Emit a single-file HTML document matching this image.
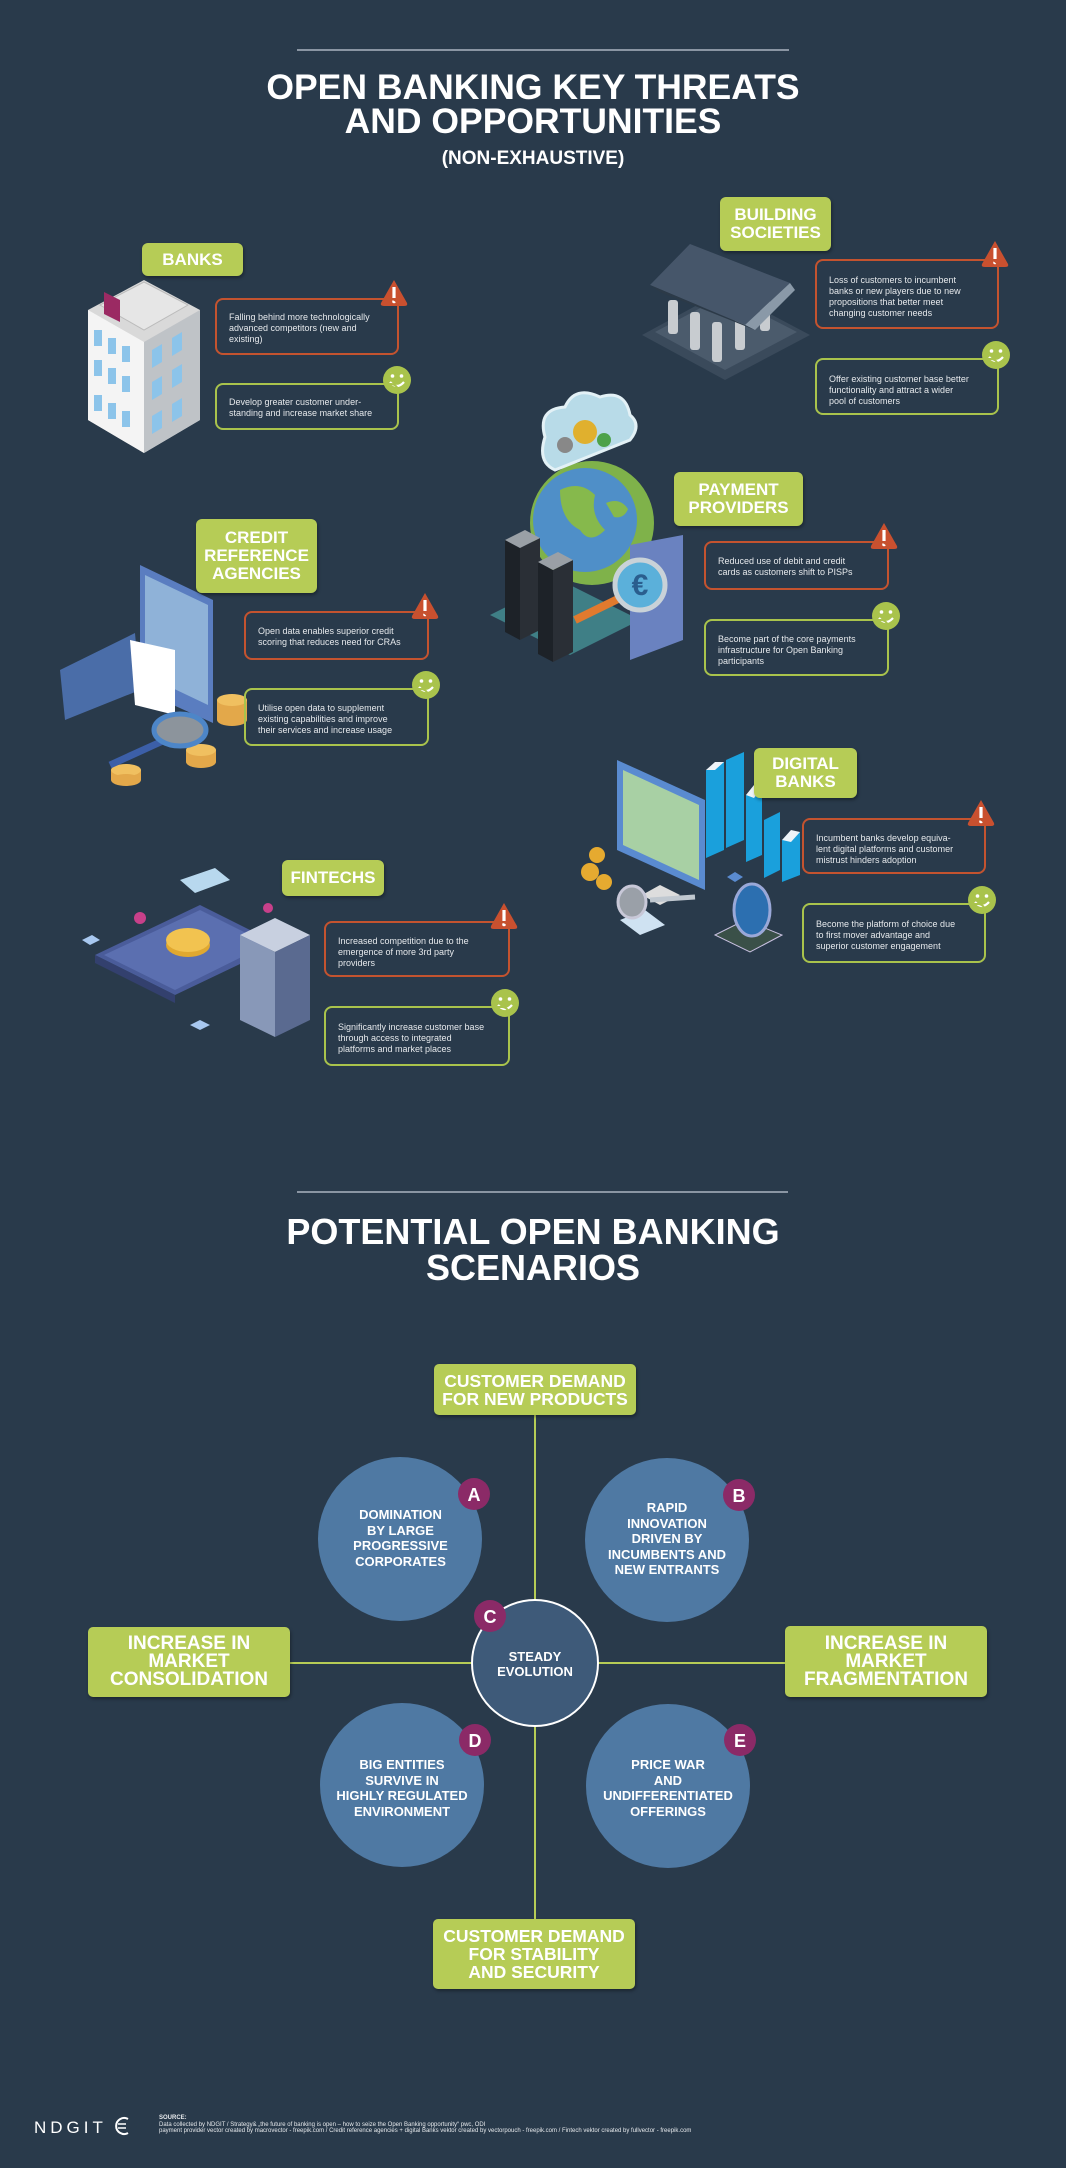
<!DOCTYPE html>
<html><head><meta charset="utf-8"><style>
*{margin:0;padding:0;box-sizing:border-box}
body{width:1066px;height:2168px;background:#293a4b;overflow:hidden;font-family:"Liberation Sans",sans-serif}
#r{position:relative;width:1066px;height:2168px;background:#293a4b}
.t{position:absolute;color:#fff;font-weight:bold;text-align:center;left:0;width:1066px}
.lab{position:absolute;background:#b6cc56;border-radius:6px;color:#fff;font-weight:bold;text-align:center;display:flex;align-items:center;justify-content:center;font-size:17px;line-height:18px;box-shadow:1px 2px 3px rgba(0,0,0,.35)}
.bx{position:absolute;border:2px solid #c4532f;border-radius:8px;color:#e6e9ec;font-size:9px;line-height:11px;padding:12px 0 0 12px}
.bx.g{border-color:#a9c34c}
.gb{position:absolute;background:#b6cc56;border-radius:5px;color:#fff;font-weight:bold;text-align:center;display:flex;align-items:center;justify-content:center;font-size:17.5px;line-height:18px;box-shadow:1px 2px 3px rgba(0,0,0,.35)}
.ct{position:absolute;color:#fff;font-weight:bold;text-align:center;font-size:13px;line-height:15.5px;display:flex;align-items:center;justify-content:center}
</style></head><body><div id="r">
<svg width="1066" height="2168" style="position:absolute;left:0;top:0">
<defs>
<g id="warn"><path d="M0,-15 L13,8 Q14,11 10,11 L-10,11 Q-14,11 -13,8 Z" fill="#c9502f"/><rect x="-1.6" y="-8" width="3.2" height="11" fill="#fff"/><circle cx="0" cy="6.5" r="1.8" fill="#fff"/></g>
<g id="smile"><circle r="14" fill="#a9c34c"/><circle cx="-4.5" cy="-4" r="1.8" fill="#fff"/><circle cx="4.5" cy="-4" r="1.8" fill="#fff"/><path d="M-7,2 Q0,10 7,2" stroke="#fff" stroke-width="2.2" fill="none"/></g>
</defs>
<line x1="297" y1="50" x2="789" y2="50" stroke="#8a95a3" stroke-width="2"/>
<line x1="297" y1="1192" x2="788" y2="1192" stroke="#8a95a3" stroke-width="2"/>

<!-- Bank building -->
<polygon points="88,310 144,280 200,310 200,420 144,453 88,420" fill="#d9d9d9"/>
<polygon points="88,310 144,342 144,453 88,420" fill="#f4f4f4"/>
<polygon points="144,342 200,310 200,420 144,453" fill="#bfc3c7"/>
<polygon points="100,305 144,282 188,305 144,330" fill="#e6e6e6" stroke="#bbb"/>
<polygon points="104,292 120,300 120,322 104,314" fill="#9b2a63"/>
<g fill="#8cc4ea"><rect x="94" y="330" width="8" height="16"/><rect x="108" y="338" width="8" height="16"/><rect x="122" y="346" width="8" height="16"/><rect x="94" y="360" width="8" height="16"/><rect x="108" y="368" width="8" height="16"/><rect x="122" y="376" width="8" height="16"/><rect x="94" y="395" width="8" height="16"/><rect x="108" y="403" width="8" height="16"/><rect x="122" y="411" width="8" height="16"/>
<polygon points="152,350 162,344 162,362 152,368"/><polygon points="172,338 182,332 182,350 172,356"/><polygon points="152,382 162,376 162,394 152,400"/><polygon points="172,370 182,364 182,382 172,388"/><polygon points="152,416 162,410 162,428 152,434"/><polygon points="172,404 182,398 182,416 172,422"/></g>

<!-- Building society -->
<polygon points="642,335 725,290 810,335 725,380" fill="#3a4a5b"/>
<polygon points="655,332 725,295 797,332 725,370" fill="#4b5b6c"/>
<g fill="#c8ccd0"><rect x="668" y="300" width="10" height="34" rx="3"/><rect x="690" y="312" width="10" height="38" rx="3"/><rect x="712" y="322" width="10" height="40" rx="3"/><rect x="735" y="312" width="10" height="38" rx="3"/><rect x="760" y="295" width="10" height="36" rx="3"/></g>
<polygon points="650,285 690,244 790,283 745,325" fill="#46566a"/>
<polygon points="745,325 790,283 795,290 755,330" fill="#8a99a8"/>
<polygon points="650,285 745,325 755,330 660,292" fill="#2c3a48"/>

<!-- Payment providers -->
<polygon points="490,615 560,580 640,620 570,655" fill="#3f7f86"/>
<circle cx="592" cy="523" r="62" fill="#7fb24a"/>
<circle cx="585" cy="520" r="52" fill="#4f8fc8"/>
<path d="M560,490 q20,-10 35,5 q-5,20 10,35 q-15,15 -25,0 q-20,-10 -20,-40z" fill="#86b94c"/>
<path d="M606,503 q14,-6 22,6 q-4,10 -14,8z" fill="#86b94c"/>
<path d="M545,437 q-8,-28 20,-30 q10,-22 35,-10 q25,-8 30,18 q12,10 0,25 l-75,30 q-18,-8 -10,-33z" fill="#b8dbe8" stroke="#e3f1f6" stroke-width="3"/>
<circle cx="585" cy="432" r="12" fill="#e0b02e"/><circle cx="565" cy="445" r="8" fill="#888"/><circle cx="604" cy="440" r="7" fill="#4da24a"/>
<polygon points="520,548 540,538 540,630 520,640" fill="#2a2f36"/><polygon points="505,540 520,548 520,640 505,632" fill="#1d2228"/><polygon points="505,540 525,530 540,538 520,548" fill="#9aa0a6"/>
<polygon points="553,570 573,560 573,652 553,662" fill="#2a2f36"/><polygon points="538,562 553,570 553,662 538,654" fill="#1d2228"/><polygon points="538,562 558,552 573,560 553,570" fill="#9aa0a6"/>
<polygon points="630,545 683,535 683,640 630,660" fill="#6a82c0"/>
<line x1="575" y1="620" x2="620" y2="598" stroke="#e07a2e" stroke-width="8"/>
<circle cx="640" cy="585" r="25" fill="#5bb0da" stroke="#c9d2d8" stroke-width="5"/>
<text x="640" y="595" font-size="30" font-weight="bold" fill="#2a5e8e" text-anchor="middle" font-family="Liberation Sans">€</text>

<!-- Credit reference -->
<polygon points="140,565 213,600 213,723 140,690" fill="#5a7dc0"/>
<polygon points="145,575 208,605 208,705 145,675" fill="#8fb2d8"/>
<polygon points="60,670 135,633 140,690 65,720" fill="#4a6da8"/>
<polygon points="130,640 175,650 175,715 135,705" fill="#fff"/>
<g fill="#e3a84a"><ellipse cx="232" cy="720" rx="15" ry="6"/><rect x="217" y="700" width="30" height="20"/><ellipse cx="232" cy="700" rx="15" ry="6" fill="#f0c060"/>
<rect x="186" y="750" width="30" height="12"/><ellipse cx="201" cy="750" rx="15" ry="6" fill="#f0c060"/><ellipse cx="201" cy="762" rx="15" ry="6"/>
<rect x="111" y="770" width="30" height="10"/><ellipse cx="126" cy="770" rx="15" ry="6" fill="#f0c060"/><ellipse cx="126" cy="780" rx="15" ry="6"/></g>
<line x1="110" y1="765" x2="165" y2="740" stroke="#3c5fa8" stroke-width="7"/>
<ellipse cx="180" cy="730" rx="26" ry="16" fill="#8c949c" stroke="#4d86c8" stroke-width="5"/>

<!-- Digital banks -->
<polygon points="617,760 705,800 705,890 617,850" fill="#5a8bd0"/>
<polygon points="623,770 699,805 699,880 623,845" fill="#a8d0a4"/>
<polygon points="642,895 660,885 680,895 660,905" fill="#ddd"/>
<g fill="#1aa0dc"><polygon points="706,770 724,762 724,850 706,858"/><polygon points="726,760 744,752 744,840 726,848"/><polygon points="746,795 762,788 762,855 746,862"/><polygon points="764,820 780,812 780,870 764,878"/><polygon points="782,840 800,832 800,875 782,882"/></g>
<g fill="#eef3f8"><polygon points="706,770 715,762 724,762 715,770"/><polygon points="746,795 754,785 762,788 754,798"/><polygon points="782,840 791,830 800,832 791,842"/></g>
<g fill="#e6aa30"><circle cx="597" cy="855" r="8"/><circle cx="590" cy="872" r="9"/><circle cx="604" cy="882" r="8"/></g>
<polygon points="620,920 645,910 665,925 640,935" fill="#cfe2f2"/>
<ellipse cx="632" cy="902" rx="14" ry="16" fill="#9aa0a8" stroke="#c8c8d8" stroke-width="3"/>
<line x1="650" y1="900" x2="695" y2="897" stroke="#c0c8d0" stroke-width="5"/>
<polygon points="715,935 745,920 782,935 750,952" fill="#3a5048" stroke="#c8c0e0"/>
<ellipse cx="752" cy="910" rx="18" ry="26" fill="#2c6fb0" stroke="#9aa8d8" stroke-width="3"/>
<polygon points="727,877 735,872 743,877 735,882" fill="#5a8bd0"/>

<!-- Fintech -->
<polygon points="95,955 200,905 280,945 175,995" fill="#4a5c9a"/>
<polygon points="95,955 175,995 175,1003 95,963" fill="#33406e"/>
<polygon points="104,955 200,910 268,944 175,990" fill="#5b6fb0"/>
<polygon points="180,880 215,868 230,880 195,893" fill="#b8d8ee"/>
<ellipse cx="188" cy="945" rx="22" ry="12" fill="#e0a830"/><ellipse cx="188" cy="940" rx="22" ry="12" fill="#f2c350"/>
<polygon points="240,935 275,918 310,935 275,952" fill="#c8d0e0"/>
<polygon points="240,935 275,952 275,1037 240,1020" fill="#8898b8"/>
<polygon points="275,952 310,935 310,1020 275,1037" fill="#5a6a90"/>
<circle cx="140" cy="918" r="6" fill="#c8408a"/><circle cx="268" cy="908" r="5" fill="#c8408a"/>
<polygon points="82,940 92,935 100,940 90,945" fill="#a8c8f0"/><polygon points="190,1025 200,1020 210,1025 200,1030" fill="#a8c8f0"/>

<!-- scenarios -->
<line x1="535" y1="1415" x2="535" y2="1919" stroke="#b6cc56" stroke-width="2"/>
<line x1="290" y1="1663" x2="786" y2="1663" stroke="#b6cc56" stroke-width="2"/>
<circle cx="400" cy="1539" r="82" fill="#4f79a3"/>
<circle cx="667" cy="1540" r="82" fill="#4f79a3"/>
<circle cx="402" cy="1785" r="82" fill="#4f79a3"/>
<circle cx="668" cy="1786" r="82" fill="#4f79a3"/>
<circle cx="535" cy="1663" r="63" fill="#3e5a79" stroke="#fff" stroke-width="2"/>
<g fill="#8b2a67" stroke="#b6cc56" stroke-width="0"><circle cx="474" cy="1494" r="16"/><circle cx="739" cy="1495" r="16"/><circle cx="490" cy="1616" r="16"/><circle cx="475" cy="1740" r="16"/><circle cx="740" cy="1740" r="16"/></g>
<g fill="#fff" font-family="Liberation Sans" font-weight="bold" font-size="18" text-anchor="middle"><text x="474" y="1501">A</text><text x="739" y="1502">B</text><text x="490" y="1623">C</text><text x="475" y="1747">D</text><text x="740" y="1747">E</text></g>

<!-- icons -->
<use href="#warn" x="394" y="295"/><use href="#smile" x="397" y="380"/>
<use href="#warn" x="995" y="256"/><use href="#smile" x="996" y="355"/>
<use href="#warn" x="884" y="538"/><use href="#smile" x="886" y="616"/>
<use href="#warn" x="425" y="608"/><use href="#smile" x="426" y="685"/>
<use href="#warn" x="981" y="815"/><use href="#smile" x="982" y="900"/>
<use href="#warn" x="504" y="918"/><use href="#smile" x="505" y="1003"/>
<!-- footer logo -->
<text x="34" y="2133" font-family="Liberation Sans" font-size="17" fill="#fff" letter-spacing="4">NDGIT</text>
<path d="M128,2119 a8,8 0 1,0 0,14" stroke="#fff" stroke-width="2" fill="none"/><line x1="118" y1="2124" x2="126" y2="2124" stroke="#fff" stroke-width="1.5"/><line x1="118" y1="2128" x2="126" y2="2128" stroke="#fff" stroke-width="1.5"/>
</svg>

<div class="t" style="top:70px;font-size:35.5px;line-height:34px">OPEN BANKING KEY THREATS<br>AND OPPORTUNITIES</div>
<div class="t" style="top:149px;font-size:19px;line-height:20px">(NON-EXHAUSTIVE)</div>

<div class="lab" style="left:142px;top:243px;width:101px;height:33px">BANKS</div>
<div class="lab" style="left:720px;top:197px;width:111px;height:54px">BUILDING<br>SOCIETIES</div>
<div class="lab" style="left:674px;top:472px;width:129px;height:54px">PAYMENT<br>PROVIDERS</div>
<div class="lab" style="left:196px;top:519px;width:121px;height:74px">CREDIT<br>REFERENCE<br>AGENCIES</div>
<div class="lab" style="left:754px;top:748px;width:103px;height:50px">DIGITAL<br>BANKS</div>
<div class="lab" style="left:282px;top:860px;width:102px;height:36px">FINTECHS</div>

<div class="bx" style="left:215px;top:298px;width:184px;height:57px">Falling behind more technologically<br>advanced competitors (new and<br>existing)</div>
<div class="bx g" style="left:215px;top:383px;width:184px;height:47px">Develop greater customer under-<br>standing and increase market share</div>
<div class="bx" style="left:815px;top:259px;width:184px;height:70px;padding-top:14px">Loss of customers to incumbent<br>banks or new players due to new<br>propositions that better meet<br>changing customer needs</div>
<div class="bx g" style="left:815px;top:358px;width:184px;height:57px;padding-top:14px">Offer existing customer base better<br>functionality and attract a wider<br>pool of customers</div>
<div class="bx" style="left:704px;top:541px;width:185px;height:49px;padding-top:13px">Reduced use of debit and credit<br>cards as customers shift to PISPs</div>
<div class="bx g" style="left:704px;top:619px;width:185px;height:57px;padding-top:13px">Become part of the core payments<br>infrastructure for Open Banking<br>participants</div>
<div class="bx" style="left:244px;top:611px;width:185px;height:49px;padding-top:13px">Open data enables superior credit<br>scoring that reduces need for CRAs</div>
<div class="bx g" style="left:244px;top:688px;width:185px;height:58px;padding-top:13px">Utilise open data to supplement<br>existing capabilities and improve<br>their services and increase usage</div>
<div class="bx" style="left:802px;top:818px;width:184px;height:56px;padding-top:13px">Incumbent banks develop equiva-<br>lent digital platforms and customer<br>mistrust hinders adoption</div>
<div class="bx g" style="left:802px;top:903px;width:184px;height:60px;padding-top:14px">Become the platform of choice due<br>to first mover advantage and<br>superior customer engagement</div>
<div class="bx" style="left:324px;top:921px;width:186px;height:56px;padding-top:13px">Increased competition due to the<br>emergence of more 3rd party<br>providers</div>
<div class="bx g" style="left:324px;top:1006px;width:186px;height:60px;padding-top:14px">Significantly increase customer base<br>through access to integrated<br>platforms and market places</div>

<div class="t" style="top:1214px;font-size:36px;line-height:36px">POTENTIAL OPEN BANKING<br>SCENARIOS</div>

<div class="gb" style="left:434px;top:1364px;width:202px;height:51px">CUSTOMER DEMAND<br>FOR NEW PRODUCTS</div>
<div class="gb" style="left:433px;top:1919px;width:202px;height:70px">CUSTOMER DEMAND<br>FOR STABILITY<br>AND SECURITY</div>
<div class="gb" style="left:88px;top:1627px;width:202px;height:70px;font-size:19px">INCREASE IN<br>MARKET<br>CONSOLIDATION</div>
<div class="gb" style="left:785px;top:1626px;width:202px;height:71px;font-size:19px">INCREASE IN<br>MARKET<br>FRAGMENTATION</div>

<div class="ct" style="left:318px;top:1500px;width:165px;height:76px">DOMINATION<br>BY LARGE<br>PROGRESSIVE<br>CORPORATES</div>
<div class="ct" style="left:585px;top:1499px;width:164px;height:80px">RAPID<br>INNOVATION<br>DRIVEN BY<br>INCUMBENTS AND<br>NEW ENTRANTS</div>
<div class="ct" style="left:471px;top:1648px;width:128px;height:32px">STEADY<br>EVOLUTION</div>
<div class="ct" style="left:320px;top:1753px;width:164px;height:70px">BIG ENTITIES<br>SURVIVE IN<br>HIGHLY REGULATED<br>ENVIRONMENT</div>
<div class="ct" style="left:586px;top:1753px;width:164px;height:70px">PRICE WAR<br>AND<br>UNDIFFERENTIATED<br>OFFERINGS</div>

<div style="position:absolute;left:159px;top:2115px;color:#e6e9ec;font-size:6px;line-height:6.5px;white-space:nowrap"><b>SOURCE:</b><br>Data collected by NDGIT / Strategy&amp; „the future of banking is open – how to seize the Open Banking opportunity“ pwc, ODI<br>payment provider vector created by macrovector - freepik.com / Credit reference agencies + digital Banks vektor created by vectorpouch - freepik.com / Fintech vektor created by fullvector - freepik.com</div>
</div></body></html>
